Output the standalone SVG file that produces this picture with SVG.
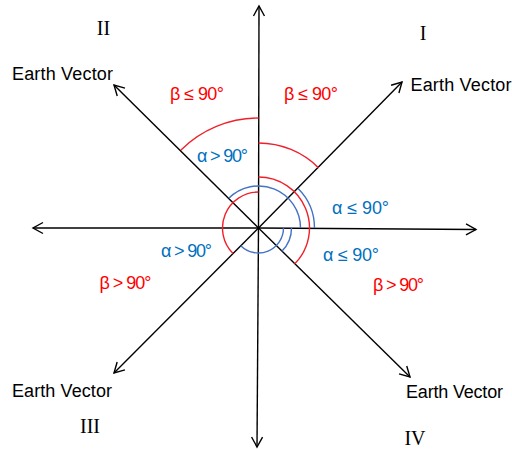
<svg xmlns="http://www.w3.org/2000/svg" width="512" height="449" viewBox="0 0 512 449">
<style>
.ax{stroke:#000;stroke-width:1.4;fill:none}
.arc{fill:none;stroke-width:1.4}
.r{stroke:#F0202A}
.b{stroke:#4472C4}
.ev{font-family:"Liberation Sans",Arial,sans-serif;font-size:18px;fill:#000}
.lab{font-family:"Liberation Sans",Arial,sans-serif;font-size:18px}
.rt{fill:#FF0000}
.bt{fill:#0070C0}
.rn{font-family:"Liberation Serif","Times New Roman",serif;font-size:20px;fill:#000;text-anchor:middle}
</style>
<defs>
<marker id="ah" markerUnits="userSpaceOnUse" markerWidth="14" markerHeight="14" viewBox="-12 -7 14 14" refX="0" refY="0" orient="auto">
<path d="M-10,-5.5 L0,0 L-10,5.5" fill="none" stroke="#000" stroke-width="1.4"/>
</marker>
</defs>
<rect width="512" height="449" fill="#fff"/>
<g id="connectors">
<line class="ax" x1="258.5" y1="228" x2="259" y2="6" marker-end="url(#ah)"/>
<line class="ax" x1="258.5" y1="228" x2="257" y2="447" marker-end="url(#ah)"/>
<line class="ax" x1="258.5" y1="228" x2="33" y2="228" marker-end="url(#ah)"/>
<line class="ax" x1="258.5" y1="228" x2="476" y2="229.5" marker-end="url(#ah)"/>
<line class="ax" x1="258.5" y1="228" x2="402" y2="82" marker-end="url(#ah)"/>
<line class="ax" x1="258.5" y1="228" x2="114" y2="85" marker-end="url(#ah)"/>
<line class="ax" x1="258.5" y1="228" x2="114" y2="373" marker-end="url(#ah)"/>
<line class="ax" x1="258.5" y1="228" x2="410" y2="377" marker-end="url(#ah)"/>
</g>
<g id="arcs">
<path class="arc r" d="M180.72,150.22 A110,110 0 0 1 258.5,118"/>
<path class="arc r" d="M258.5,143 A85,85 0 0 1 318.6,167.9"/>
<path class="arc r" d="M258.5,177 A51,51 0 0 1 294.56,264.06"/>
<path class="arc r" d="M258.5,192 A36,36 0 0 0 233.04,253.46"/>
<path class="arc b" d="M228.8,198.3 A42,42 0 0 1 300.5,228"/>
<path class="arc b" d="M298.1,188.4 A56,56 0 0 1 314.5,228"/>
<path class="arc b" d="M291.5,228 A33,33 0 0 1 281.83,251.33"/>
<path class="arc b" d="M283.5,228 A25,25 0 0 1 240.82,245.68"/>
</g>
<g id="quadrant-I"><text class="rn" x="423" y="40">I</text></g>
<g id="quadrant-II"><text class="rn" x="103.5" y="35">II</text></g>
<g id="quadrant-III"><text class="rn" x="90" y="433">III</text></g>
<g id="quadrant-IV"><text class="rn" x="415" y="445">IV</text></g>
<g id="earth-vector-I"><text class="ev" x="410.5" y="90.5" textLength="101">Earth Vector</text></g>
<g id="earth-vector-II"><text class="ev" x="12" y="80" textLength="101">Earth Vector</text></g>
<g id="earth-vector-III"><text class="ev" x="12" y="396.5" textLength="100">Earth Vector</text></g>
<g id="earth-vector-IV"><text class="ev" x="406" y="398" textLength="97">Earth Vector</text></g>
<g id="beta-II"><text class="lab rt" x="170" y="100" textLength="54">β ≤ 90°</text></g>
<g id="beta-I"><text class="lab rt" x="284" y="100" textLength="54">β ≤ 90°</text></g>
<g id="alpha-II"><text class="lab bt" x="197" y="162" textLength="51">α &gt; 90°</text></g>
<g id="alpha-I"><text class="lab bt" x="332" y="214" textLength="57">α ≤ 90°</text></g>
<g id="alpha-IV"><text class="lab bt" x="323" y="260.5" textLength="56">α ≤ 90°</text></g>
<g id="beta-IV"><text class="lab rt" x="373" y="290.5" textLength="51">β &gt; 90°</text></g>
<g id="alpha-III"><text class="lab bt" x="161" y="256.5" textLength="51">α &gt; 90°</text></g>
<g id="beta-III"><text class="lab rt" x="99.5" y="289" textLength="52">β &gt; 90°</text></g>
</svg>
